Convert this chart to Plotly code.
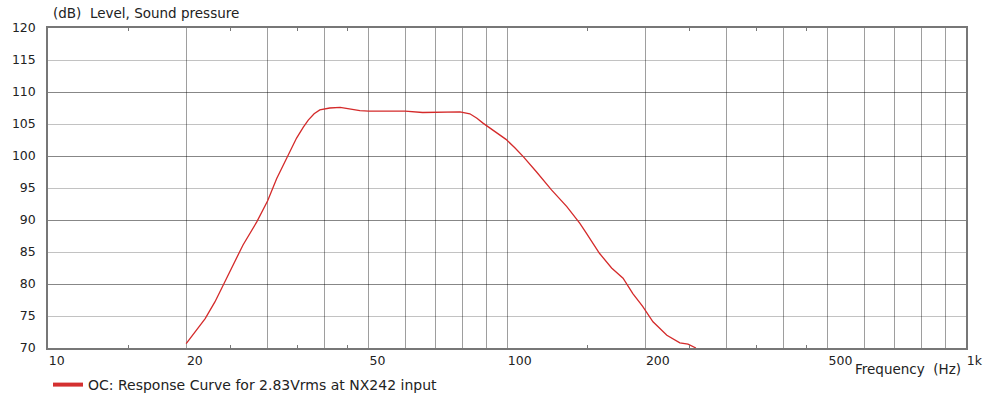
#--------------------- Packages
import plotly.graph_objects as go

#--------------------- Data
freq = [20.0, 22.0, 23.1, 24.1, 25.3, 26.6, 28.5, 30.1, 31.5, 33.1, 34.8, 36.0, 36.9,
        38.0, 39.1, 41.1, 43.3, 45.0, 47.8, 50.0, 55.0, 60.0, 65.5, 72.0, 76.0, 79.0,
        83.0, 86.0, 88.8, 94.0, 99.5, 104.0, 108.5, 116.0, 125.0, 135.0, 144.0, 149.0,
        159.0, 169.0, 179.0, 188.0, 197.5, 208.0, 223.0, 238.0, 248.0, 258.0]
spl = [70.7, 74.6, 77.2, 79.8, 83.0, 86.1, 89.7, 93.0, 96.5, 99.6, 102.8, 104.5, 105.6,
       106.6, 107.2, 107.5, 107.6, 107.4, 107.1, 107.0, 107.0, 107.0, 106.8, 106.8, 106.9, 106.9,
       106.6, 105.9, 105.1, 103.9, 102.6, 101.3, 99.9, 97.5, 94.7, 92.1, 89.5, 87.9,
       84.8, 82.5, 80.9, 78.5, 76.5, 74.1, 72.0, 70.8, 70.6, 70.0]

x_grid = [10, 20, 30, 40, 50, 60, 70, 80, 90, 100, 200, 300, 400, 500, 600, 700, 800, 900, 1000]
x_labels = {10: '10', 20: '20', 50: '50', 100: '100', 200: '200', 500: '500', 1000: '1k'}
x_minor = [15, 25, 35, 45, 150, 250, 350, 450]
y_ticks = [70, 75, 80, 85, 90, 95, 100, 105, 110, 115, 120]
y_tens = [80, 90, 100, 110]

series_name = 'OC: Response Curve for 2.83Vrms at NX242 input'

#--------------------- Figure
font_family = 'DejaVu Sans'
fig = go.Figure()
fig.add_trace(go.Scatter(x = freq, y = spl, mode = 'lines',
                         line = dict(color = '#d42a2a', width = 1.3),
                         showlegend = False, hoverinfo = 'x+y'))
# legend entry only (thicker swatch like the original)
fig.add_trace(go.Scatter(x = [None], y = [None], mode = 'lines',
                         line = dict(color = '#d43030', width = 4),
                         name = series_name))

fig.update_xaxes(type = 'log', range = [1, 3], automargin = False,
                 tickmode = 'array', tickvals = x_grid,
                 ticktext = [x_labels.get(v, '') for v in x_grid],
                 ticks = '', ticklabelposition = 'outside right',
                 showgrid = True, gridcolor = 'rgba(0,0,0,0.38)', gridwidth = 1,
                 showline = True, linecolor = '#777', linewidth = 1.5, mirror = 'ticks',
                 minor = dict(tickmode = 'array', tickvals = x_minor, ticks = 'inside',
                              ticklen = 3, tickcolor = '#777', showgrid = False),
                 tickfont = dict(family = font_family, size = 12.5, color = '#222'),
                 zeroline = False)
fig.update_yaxes(range = [70, 120], automargin = False,
                 tickmode = 'array', tickvals = y_ticks,
                 ticks = '', ticklabelstandoff = 8,
                 showgrid = True, gridcolor = 'rgba(0,0,0,0.24)', gridwidth = 1,
                 showline = True, linecolor = '#777', linewidth = 1.5, mirror = True,
                 minor = dict(tickmode = 'array', tickvals = y_tens, ticks = '',
                              showgrid = True, gridcolor = 'rgba(0,0,0,0.3)', gridwidth = 1),
                 tickfont = dict(family = font_family, size = 12.5, color = '#222'),
                 zeroline = False)

fig.add_annotation(text = '(dB)\u00a0\u00a0Level, Sound pressure', xref = 'paper', yref = 'paper',
                   x = 0, y = 1.047, xanchor = 'left', yanchor = 'middle', xshift = 3,
                   showarrow = False, font = dict(family = font_family, size = 13.5, color = '#222'))
fig.add_annotation(text = 'Frequency\u00a0\u00a0(Hz)', xref = 'paper', yref = 'paper',
                   x = 1, y = -0.066, xanchor = 'right', yanchor = 'middle', xshift = -3,
                   showarrow = False, font = dict(family = font_family, size = 13.5, color = '#222'))

fig.update_layout(width = 986, height = 394,
                  margin = dict(l = 48, r = 20, t = 28, b = 46),
                  plot_bgcolor = 'white', paper_bgcolor = 'white',
                  showlegend = True,
                  legend = dict(x = 0, xref = 'paper', y = 1 - 385 / 394, yref = 'container',
                                xanchor = 'left', yanchor = 'middle',
                                orientation = 'h', bgcolor = 'rgba(0,0,0,0)',
                                font = dict(family = font_family, size = 14, color = '#222')))

fig.write_html("out.html", config = {'displayModeBar': False},
               post_script = "document.body.style.margin = '0';")
